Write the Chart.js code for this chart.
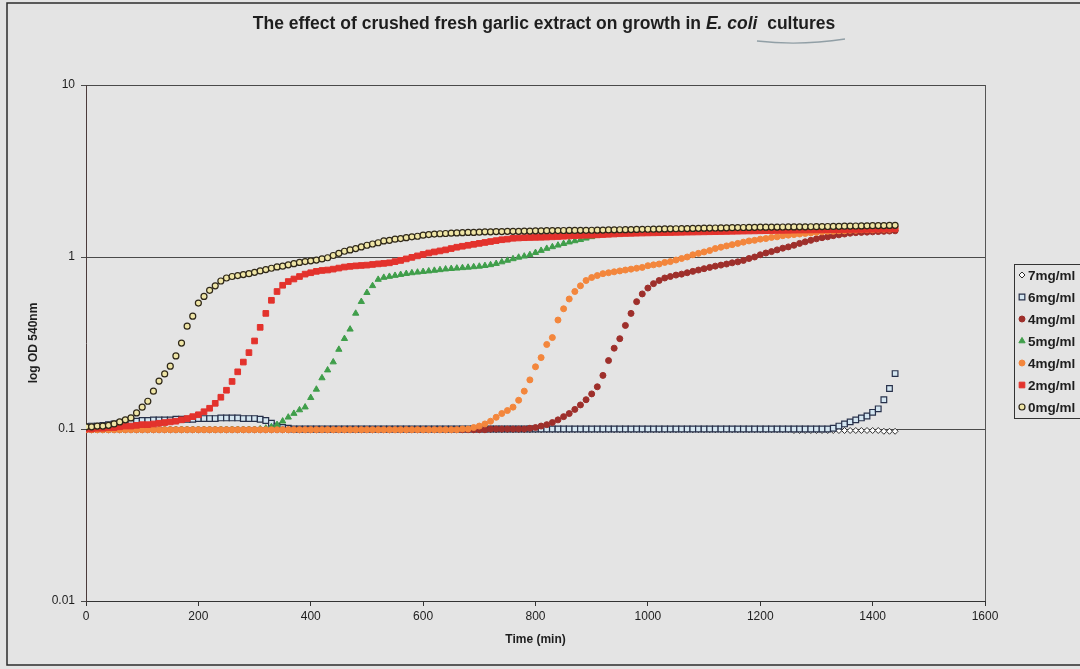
<!DOCTYPE html>
<html>
<head>
<meta charset="utf-8">
<title>Garlic extract - E. coli growth</title>
<script src="https://cdn.jsdelivr.net/npm/chart.js@4.4.0/dist/chart.umd.min.js"></script>
<style>
  html, body { margin: 0; padding: 0; background: #e4e4e4; overflow: hidden; }
  #wrap { width: 1080px; height: 669px; }
</style>
</head>
<body>
<div id="wrap"><canvas id="graficoCrecimiento" width="1080" height="669"></canvas></div>
<script>
// Tiempos de lectura (min)
const tiempos = [
  0, 10, 20, 30, 40, 50, 60, 70, 80, 90,
  100, 110, 120, 130, 140, 150, 160, 170, 180, 190,
  200, 210, 220, 230, 240, 250, 260, 270, 280, 290,
  300, 310, 320, 330, 340, 350, 360, 370, 380, 390,
  400, 410, 420, 430, 440, 450, 460, 470, 480, 490,
  500, 510, 520, 530, 540, 550, 560, 570, 580, 590,
  600, 610, 620, 630, 640, 650, 660, 670, 680, 690,
  700, 710, 720, 730, 740, 750, 760, 770, 780, 790,
  800, 810, 820, 830, 840, 850, 860, 870, 880, 890,
  900, 910, 920, 930, 940, 950, 960, 970, 980, 990,
  1000, 1010, 1020, 1030, 1040, 1050, 1060, 1070, 1080, 1090,
  1100, 1110, 1120, 1130, 1140, 1150, 1160, 1170, 1180, 1190,
  1200, 1210, 1220, 1230, 1240, 1250, 1260, 1270, 1280, 1290,
  1300, 1310, 1320, 1330, 1340, 1350, 1360, 1370, 1380, 1390,
  1400, 1410, 1420, 1430, 1440
];

// OD 540nm por concentracion
const od7mg = [
  0.099, 0.099, 0.099, 0.099, 0.099, 0.099, 0.099, 0.099, 0.099, 0.099,
  0.099, 0.099, 0.099, 0.099, 0.099, 0.099, 0.099, 0.099, 0.099, 0.099,
  0.099, 0.099, 0.099, 0.099, 0.099, 0.099, 0.099, 0.099, 0.099, 0.099,
  0.099, 0.099, 0.099, 0.099, 0.099, 0.099, 0.099, 0.099, 0.099, 0.099,
  0.099, 0.099, 0.099, 0.099, 0.099, 0.099, 0.099, 0.099, 0.099, 0.099,
  0.099, 0.099, 0.099, 0.099, 0.099, 0.099, 0.099, 0.099, 0.099, 0.099,
  0.099, 0.099, 0.099, 0.099, 0.099, 0.099, 0.099, 0.099, 0.099, 0.099,
  0.099, 0.099, 0.099, 0.099, 0.099, 0.099, 0.099, 0.099, 0.099, 0.099,
  0.099, 0.099, 0.099, 0.099, 0.099, 0.099, 0.099, 0.099, 0.099, 0.099,
  0.099, 0.099, 0.099, 0.099, 0.099, 0.099, 0.099, 0.099, 0.099, 0.099,
  0.099, 0.099, 0.099, 0.099, 0.099, 0.099, 0.099, 0.099, 0.099, 0.099,
  0.099, 0.099, 0.099, 0.099, 0.099, 0.099, 0.099, 0.099, 0.099, 0.099,
  0.099, 0.099, 0.099, 0.099, 0.099, 0.099, 0.098, 0.098, 0.098, 0.098,
  0.098, 0.098, 0.098, 0.098, 0.098, 0.098, 0.098, 0.098, 0.098, 0.098,
  0.098, 0.098, 0.097, 0.097, 0.097
];
const od6mg = [
  0.103, 0.104, 0.104, 0.105, 0.106, 0.107, 0.108, 0.109, 0.110, 0.111,
  0.112, 0.112, 0.113, 0.113, 0.113, 0.113, 0.114, 0.114, 0.114, 0.114,
  0.115, 0.115, 0.115, 0.115, 0.116, 0.116, 0.116, 0.116, 0.115, 0.115,
  0.115, 0.114, 0.112, 0.108, 0.104, 0.102, 0.101, 0.100, 0.100, 0.100,
  0.100, 0.100, 0.100, 0.100, 0.100, 0.100, 0.100, 0.100, 0.100, 0.100,
  0.100, 0.100, 0.100, 0.100, 0.100, 0.100, 0.100, 0.100, 0.100, 0.100,
  0.100, 0.100, 0.100, 0.100, 0.100, 0.100, 0.100, 0.100, 0.100, 0.100,
  0.100, 0.100, 0.100, 0.100, 0.100, 0.100, 0.100, 0.100, 0.100, 0.100,
  0.100, 0.100, 0.100, 0.100, 0.100, 0.100, 0.100, 0.100, 0.100, 0.100,
  0.100, 0.100, 0.100, 0.100, 0.100, 0.100, 0.100, 0.100, 0.100, 0.100,
  0.100, 0.100, 0.100, 0.100, 0.100, 0.100, 0.100, 0.100, 0.100, 0.100,
  0.100, 0.100, 0.100, 0.100, 0.100, 0.100, 0.100, 0.100, 0.100, 0.100,
  0.100, 0.100, 0.100, 0.100, 0.100, 0.100, 0.100, 0.100, 0.100, 0.100,
  0.100, 0.100, 0.100, 0.101, 0.104, 0.107, 0.110, 0.113, 0.116, 0.119,
  0.125, 0.131, 0.148, 0.172, 0.210
];
const od4mgOscuro = [
  0.099, 0.099, 0.099, 0.099, 0.099, 0.099, 0.099, 0.099, 0.099, 0.099,
  0.099, 0.099, 0.099, 0.099, 0.099, 0.099, 0.099, 0.099, 0.099, 0.099,
  0.099, 0.099, 0.099, 0.099, 0.099, 0.099, 0.099, 0.099, 0.099, 0.099,
  0.099, 0.099, 0.099, 0.099, 0.099, 0.099, 0.099, 0.099, 0.099, 0.099,
  0.099, 0.099, 0.099, 0.099, 0.099, 0.099, 0.099, 0.099, 0.099, 0.099,
  0.099, 0.099, 0.099, 0.099, 0.099, 0.099, 0.099, 0.099, 0.099, 0.099,
  0.099, 0.099, 0.099, 0.099, 0.099, 0.099, 0.099, 0.099, 0.099, 0.099,
  0.099, 0.099, 0.100, 0.100, 0.100, 0.100, 0.100, 0.100, 0.100, 0.101,
  0.102, 0.104, 0.106, 0.109, 0.113, 0.118, 0.123, 0.130, 0.138, 0.148,
  0.160, 0.176, 0.205, 0.250, 0.295, 0.335, 0.400, 0.470, 0.550, 0.610,
  0.660, 0.700, 0.730, 0.755, 0.770, 0.785, 0.795, 0.810, 0.825, 0.840,
  0.855, 0.870, 0.885, 0.897, 0.910, 0.925, 0.937, 0.955, 0.980, 1.000,
  1.030, 1.055, 1.075, 1.100, 1.125, 1.145, 1.170, 1.200, 1.225, 1.250,
  1.275, 1.295, 1.310, 1.330, 1.345, 1.360, 1.375, 1.385, 1.390, 1.395,
  1.400, 1.405, 1.410, 1.415, 1.420
];
const od5mg = [
  0.099, 0.099, 0.099, 0.099, 0.099, 0.099, 0.099, 0.099, 0.099, 0.099,
  0.099, 0.099, 0.099, 0.099, 0.099, 0.099, 0.099, 0.099, 0.099, 0.099,
  0.099, 0.099, 0.099, 0.099, 0.099, 0.099, 0.099, 0.099, 0.099, 0.099,
  0.099, 0.100, 0.101, 0.103, 0.106, 0.111, 0.117, 0.123, 0.129, 0.134,
  0.152, 0.170, 0.198, 0.220, 0.245, 0.290, 0.335, 0.380, 0.470, 0.550,
  0.620, 0.680, 0.740, 0.760, 0.770, 0.780, 0.790, 0.800, 0.808, 0.815,
  0.822, 0.828, 0.835, 0.842, 0.850, 0.855, 0.860, 0.865, 0.870, 0.876,
  0.882, 0.890, 0.900, 0.915, 0.935, 0.955, 0.975, 0.995, 1.010, 1.030,
  1.060, 1.090, 1.120, 1.145, 1.170, 1.195, 1.220, 1.240, 1.260, 1.285,
  1.310, 1.330, 1.350, 1.365, 1.380, 1.390, 1.400, 1.405, 1.410, 1.415,
  1.418, 1.420, 1.422, 1.424, 1.426, 1.428, 1.430, 1.431, 1.432, 1.433,
  1.434, 1.435, 1.436, 1.437, 1.438, 1.439, 1.440, 1.441, 1.442, 1.443,
  1.444, 1.445, 1.446, 1.447, 1.448, 1.449, 1.450, 1.450, 1.451, 1.451,
  1.452, 1.452, 1.453, 1.453, 1.454, 1.454, 1.455, 1.455, 1.456, 1.456,
  1.457, 1.457, 1.458, 1.458, 1.459
];
const od4mgNaranja = [
  0.099, 0.099, 0.099, 0.099, 0.099, 0.099, 0.099, 0.099, 0.099, 0.099,
  0.099, 0.099, 0.099, 0.099, 0.099, 0.099, 0.099, 0.099, 0.099, 0.099,
  0.099, 0.099, 0.099, 0.099, 0.099, 0.099, 0.099, 0.099, 0.099, 0.099,
  0.099, 0.099, 0.099, 0.099, 0.099, 0.099, 0.099, 0.099, 0.099, 0.099,
  0.099, 0.099, 0.099, 0.099, 0.099, 0.099, 0.099, 0.099, 0.099, 0.099,
  0.099, 0.099, 0.099, 0.099, 0.099, 0.099, 0.099, 0.099, 0.099, 0.099,
  0.099, 0.099, 0.099, 0.099, 0.099, 0.099, 0.099, 0.100, 0.100, 0.102,
  0.104, 0.107, 0.111, 0.117, 0.123, 0.128, 0.134, 0.147, 0.166, 0.193,
  0.230, 0.260, 0.310, 0.340, 0.430, 0.500, 0.570, 0.630, 0.680, 0.730,
  0.760, 0.780, 0.800, 0.810, 0.820, 0.830, 0.840, 0.850, 0.860, 0.870,
  0.890, 0.900, 0.910, 0.930, 0.940, 0.960, 0.980, 1.000, 1.030, 1.050,
  1.070, 1.090, 1.120, 1.140, 1.160, 1.180, 1.200, 1.220, 1.240, 1.250,
  1.270, 1.280, 1.300, 1.310, 1.330, 1.340, 1.350, 1.360, 1.370, 1.380,
  1.390, 1.400, 1.410, 1.410, 1.420, 1.420, 1.430, 1.430, 1.440, 1.440,
  1.440, 1.450, 1.450, 1.450, 1.460
];
const od2mg = [
  0.100, 0.100, 0.101, 0.101, 0.102, 0.102, 0.103, 0.104, 0.104, 0.105,
  0.106, 0.106, 0.107, 0.108, 0.109, 0.110, 0.111, 0.113, 0.115, 0.118,
  0.121, 0.126, 0.132, 0.141, 0.153, 0.168, 0.189, 0.215, 0.245, 0.278,
  0.325, 0.390, 0.470, 0.560, 0.630, 0.685, 0.720, 0.745, 0.770, 0.795,
  0.810, 0.825, 0.835, 0.840, 0.850, 0.862, 0.874, 0.882, 0.888, 0.893,
  0.897, 0.905, 0.912, 0.918, 0.925, 0.940, 0.955, 0.975, 0.995, 1.015,
  1.035, 1.055, 1.070, 1.085, 1.100, 1.120, 1.140, 1.155, 1.170, 1.185,
  1.200, 1.215, 1.230, 1.245, 1.260, 1.270, 1.285, 1.290, 1.295, 1.298,
  1.300, 1.302, 1.305, 1.310, 1.315, 1.320, 1.325, 1.330, 1.335, 1.338,
  1.340, 1.345, 1.350, 1.355, 1.360, 1.365, 1.370, 1.372, 1.375, 1.378,
  1.380, 1.382, 1.384, 1.386, 1.388, 1.390, 1.392, 1.394, 1.396, 1.398,
  1.400, 1.402, 1.404, 1.406, 1.408, 1.410, 1.412, 1.414, 1.416, 1.418,
  1.420, 1.422, 1.424, 1.426, 1.428, 1.430, 1.432, 1.434, 1.435, 1.436,
  1.437, 1.438, 1.440, 1.441, 1.442, 1.444, 1.445, 1.446, 1.447, 1.448,
  1.450, 1.452, 1.455, 1.457, 1.460
];
const od0mg = [
  0.103, 0.103, 0.104, 0.104, 0.105, 0.107, 0.110, 0.113, 0.116, 0.124,
  0.134, 0.145, 0.166, 0.190, 0.209, 0.232, 0.266, 0.316, 0.396, 0.453,
  0.540, 0.590, 0.640, 0.680, 0.725, 0.755, 0.770, 0.780, 0.790, 0.800,
  0.815, 0.830, 0.845, 0.860, 0.875, 0.885, 0.900, 0.915, 0.930, 0.940,
  0.950, 0.960, 0.975, 0.990, 1.020, 1.050, 1.080, 1.100, 1.120, 1.145,
  1.170, 1.190, 1.210, 1.240, 1.250, 1.270, 1.280, 1.295, 1.310, 1.320,
  1.340, 1.350, 1.360, 1.365, 1.370, 1.375, 1.380, 1.385, 1.390, 1.390,
  1.395, 1.400, 1.400, 1.405, 1.405, 1.410, 1.410, 1.410, 1.415, 1.415,
  1.420, 1.420, 1.422, 1.424, 1.425, 1.426, 1.427, 1.428, 1.429, 1.430,
  1.431, 1.432, 1.434, 1.436, 1.438, 1.440, 1.442, 1.444, 1.446, 1.448,
  1.450, 1.452, 1.454, 1.456, 1.458, 1.460, 1.462, 1.464, 1.466, 1.468,
  1.470, 1.472, 1.474, 1.476, 1.478, 1.480, 1.482, 1.484, 1.486, 1.488,
  1.490, 1.491, 1.492, 1.493, 1.494, 1.495, 1.496, 1.497, 1.498, 1.499,
  1.500, 1.502, 1.504, 1.506, 1.508, 1.510, 1.512, 1.514, 1.516, 1.518,
  1.520, 1.522, 1.524, 1.526, 1.528
];

const etiquetas = ['7mg/ml', '6mg/ml', '4mg/ml', '5mg/ml', '4mg/ml', '2mg/ml', '0mg/ml'];
const series = [od7mg, od6mg, od4mgOscuro, od5mg, od4mgNaranja, od2mg, od0mg];
const ticksX = [0, 200, 400, 600, 800, 1000, 1200, 1400, 1600];
const etiquetasX = ['0', '200', '400', '600', '800', '1000', '1200', '1400', '1600'];
const ticksY = [0.01, 0.1, 1, 10];
const etiquetasY = ['0.01', '0.1', '1', '10'];

// Estilo de marcadores (mismo orden que la leyenda)
const estilos = [
  { punto: 'rectRot', radio: 3, relleno: '#ffffff', borde: '#2f2f2f', grosor: 1 },
  { punto: 'rect', radio: 4, relleno: '#d4e6f1', borde: '#27304a', grosor: 1.2 },
  { punto: 'circle', radio: 3, relleno: '#9e2f2b', borde: '#9e2f2b', grosor: 1 },
  { punto: 'triangle', radio: 3.6, relleno: '#3f9e4a', borde: '#3f9e4a', grosor: 1 },
  { punto: 'circle', radio: 3, relleno: '#f3863c', borde: '#f3863c', grosor: 1 },
  { punto: 'rect', radio: 4, relleno: '#e3322c', borde: '#e3322c', grosor: 1 },
  { punto: 'circle', radio: 3, relleno: '#efe5a6', borde: '#2e2718', grosor: 1.2 }
];

const fuente = '"Liberation Sans", Arial, sans-serif';
Chart.defaults.font.family = fuente;
Chart.defaults.color = '#1e1e1e';

const datasets = series.map((valores, i) => ({
    label: etiquetas[i],
    data: tiempos.map((t, k) => ({ x: t, y: valores[k] })),
    pointStyle: estilos[i].punto,
    pointRadius: estilos[i].radio,
    pointBackgroundColor: estilos[i].relleno,
    pointBorderColor: estilos[i].borde,
    pointBorderWidth: estilos[i].grosor,
    showLine: false,
    // la ultima serie se pinta encima
    order: series.length - i
}));

const pluginMarco = {
    id: 'marco',
    beforeDraw(chart) {
        const { ctx, width, height } = chart;
        ctx.save();
        ctx.fillStyle = '#e4e4e4';
        ctx.fillRect(0, 0, width, height);
        ctx.strokeStyle = '#2b2b2b';
        ctx.lineWidth = 1.5;
        ctx.strokeRect(7, 3, width + 20, height - 7);
        ctx.restore();
    },
    afterDraw(chart) {
        const { ctx, chartArea } = chart;
        ctx.save();

        // borde derecho del area de trazado
        ctx.strokeStyle = '#555';
        ctx.lineWidth = 1;
        ctx.beginPath();
        ctx.moveTo(Math.round(chartArea.right) + 0.5, chartArea.top);
        ctx.lineTo(Math.round(chartArea.right) + 0.5, chartArea.bottom);
        ctx.stroke();

        // titulo con "E. coli" en cursiva
        const partes = [
            ['The effect of crushed fresh garlic extract on growth in ', 'bold 17.5px ' + fuente],
            ['E. coli', 'italic bold 17.5px ' + fuente],
            ['  cultures', 'bold 17.5px ' + fuente]
        ];
        let total = 0;
        partes.forEach(p => { ctx.font = p[1]; total += ctx.measureText(p[0]).width; });
        let x = 544 - total / 2;
        ctx.fillStyle = '#1e1e1e';
        ctx.textBaseline = 'middle';
        ctx.textAlign = 'left';
        partes.forEach(p => {
            ctx.font = p[1];
            ctx.fillText(p[0], x, 24);
            x += ctx.measureText(p[0]).width;
        });

        // subrayado a mano bajo "coli cultures"
        ctx.strokeStyle = 'rgba(110,130,140,0.7)';
        ctx.lineWidth = 1.4;
        ctx.beginPath();
        ctx.moveTo(757, 41);
        ctx.quadraticCurveTo(800, 46, 845, 39);
        ctx.stroke();

        // leyenda
        const lx = 1014, ly = 264, alto = 22;
        ctx.strokeStyle = '#333';
        ctx.lineWidth = 1;
        ctx.strokeRect(lx + 0.5, ly + 0.5, 100, alto * etiquetas.length);
        ctx.font = 'bold 13.5px ' + fuente;
        chart.data.datasets.forEach((ds, i) => {
            const y = ly + alto / 2 + i * alto;
            ctx.fillStyle = ds.pointBackgroundColor;
            ctx.strokeStyle = ds.pointBorderColor;
            ctx.lineWidth = ds.pointBorderWidth;
            Chart.helpers.drawPoint(ctx, {
                pointStyle: ds.pointStyle,
                radius: ds.pointRadius,
                borderWidth: ds.pointBorderWidth,
                rotation: 0
            }, lx + 8, y);
            ctx.fillStyle = '#1e1e1e';
            ctx.fillText(ds.label, lx + 14, y + 1);
        });
        ctx.restore();
    }
};

const grafico = new Chart(document.getElementById('graficoCrecimiento'), {
    type: 'scatter',
    data: { datasets: datasets },
    options: {
        responsive: false,
        animation: false,
        devicePixelRatio: 1,
        layout: { padding: { top: 85, right: 95, bottom: 0, left: 0 } },
        plugins: {
            legend: { display: false },
            tooltip: { enabled: false },
            title: { display: false }
        },
        scales: {
            x: {
                type: 'linear',
                min: 0,
                max: 1600,
                afterBuildTicks: (scale) => { scale.ticks = ticksX.map(v => ({ value: v })); },
                afterFit: (scale) => { scale.height = 68; },
                grid: { drawOnChartArea: false, drawTicks: true, tickLength: 5, color: '#333' },
                border: { color: '#333', width: 1 },
                ticks: {
                    font: { size: 12 },
                    padding: 3,
                    maxRotation: 0,
                    callback: (v) => etiquetasX[ticksX.indexOf(v)]
                },
                title: {
                    display: true,
                    text: 'Time (min)',
                    font: { size: 12, weight: 'bold' },
                    padding: { top: 0, bottom: 22 }
                }
            },
            y: {
                type: 'logarithmic',
                min: 0.01,
                max: 10,
                afterBuildTicks: (scale) => { scale.ticks = ticksY.map(v => ({ value: v })); },
                afterFit: (scale) => { scale.width = 86; },
                grid: { color: '#4a4a4a', lineWidth: 1, drawTicks: true, tickLength: 5 },
                border: { color: '#4b3b3b', width: 1 },
                ticks: {
                    font: { size: 12 },
                    padding: 6,
                    callback: (v) => etiquetasY[ticksY.indexOf(v)]
                },
                title: {
                    display: true,
                    text: 'log OD 540nm',
                    font: { size: 12, weight: 'bold' },
                    padding: { top: 26, bottom: 0 }
                }
            }
        }
    },
    plugins: [pluginMarco]
});
</script>
</body>
</html>
